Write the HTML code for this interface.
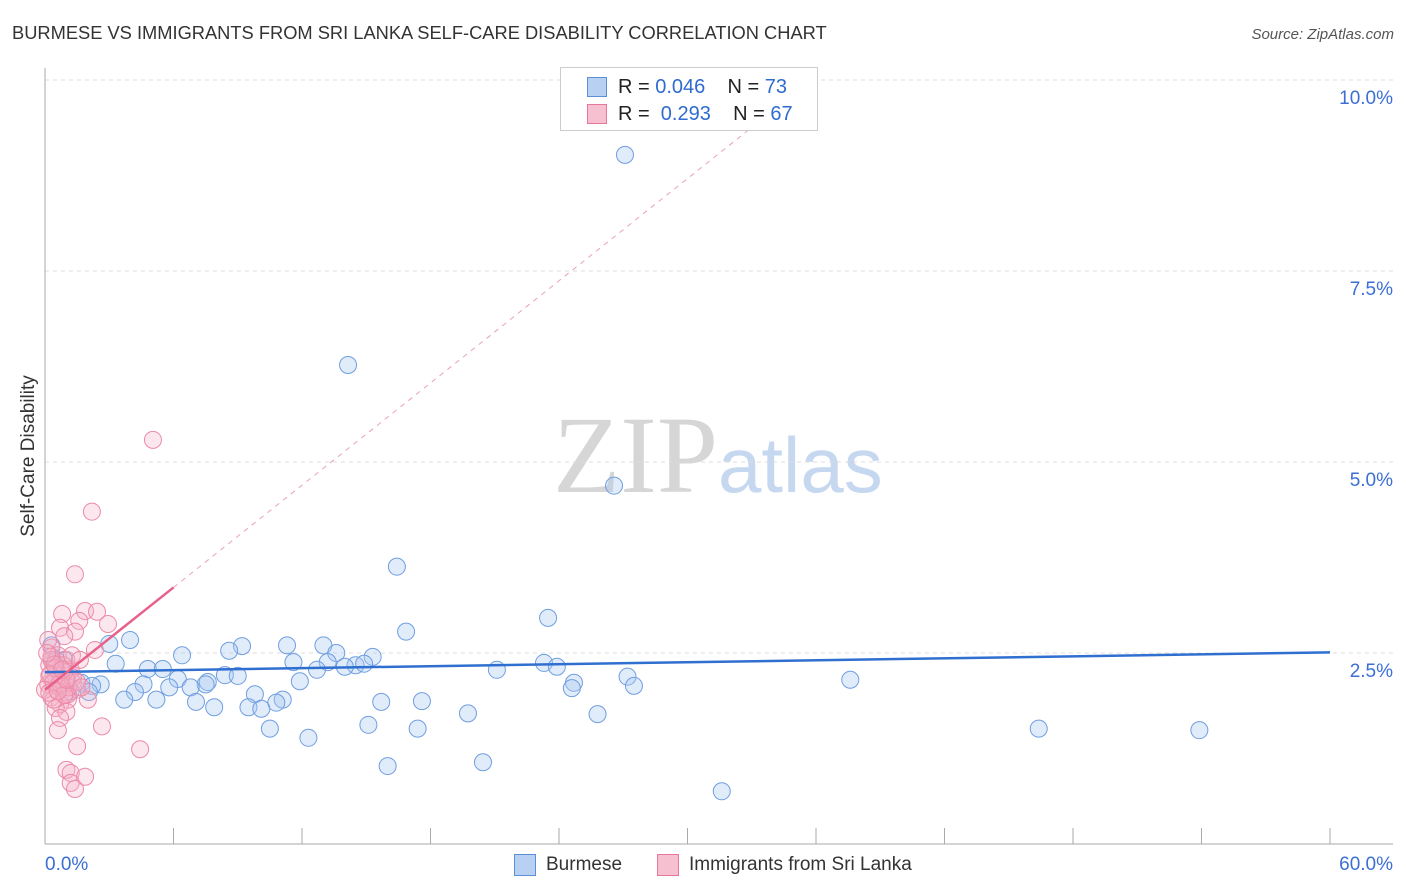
<!DOCTYPE html>
<html><head><meta charset="utf-8"><style>
body{margin:0;background:#fff;font-family:"Liberation Sans",sans-serif;}
#wrap{position:relative;width:1406px;height:892px;overflow:hidden;}
</style></head><body>
<div id="wrap">
<svg id="svg" width="1406" height="892" xmlns="http://www.w3.org/2000/svg">
<text x="12" y="39" font-size="18.3" fill="#333">BURMESE VS IMMIGRANTS FROM SRI LANKA SELF-CARE DISABILITY CORRELATION CHART</text>
<text x="1394" y="39" font-size="15" fill="#555" font-style="italic" text-anchor="end">Source: ZipAtlas.com</text>
<text x="553" y="492" font-size="110" fill="#d6d6d6" font-family="Liberation Serif,serif">ZIP</text>
<text x="718" y="492" font-size="78" fill="#c6d8f0">atlas</text>
<text transform="translate(34,456) rotate(-90)" font-size="19" fill="#333" text-anchor="middle">Self-Care Disability</text>
<g id="grid"></g><g id="marks"></g>
</svg>
<div style="position:absolute;left:560px;top:67px;width:256px;height:62px;background:#fff;border:1px solid #ccc;font-size:20px;color:#222;">
 <div style="position:absolute;left:26px;top:9px;width:18px;height:18px;background:#b8d1f3;border:1px solid #5b8fd8;"></div>
 <div style="position:absolute;left:57px;top:8px;">R = <span style="color:#2f6bd0">0.046</span>&nbsp;&nbsp;&nbsp; N = <span style="color:#2f6bd0">73</span></div>
 <div style="position:absolute;left:26px;top:36px;width:18px;height:18px;background:#f7c0d0;border:1px solid #e8789a;"></div>
 <div style="position:absolute;left:57px;top:35px;">R = &nbsp;<span style="color:#2f6bd0">0.293</span>&nbsp;&nbsp;&nbsp; N = <span style="color:#2f6bd0">67</span></div>
</div>
<div style="position:absolute;top:854px;left:514px;font-size:19px;color:#333;">
 <div style="position:absolute;left:0;top:0px;width:20px;height:20px;background:#b8d1f3;border:1px solid #5b8fd8;"></div>
 <div style="position:absolute;left:32px;top:0;white-space:nowrap;">Burmese</div>
 <div style="position:absolute;left:143px;top:0px;width:20px;height:20px;background:#f7c0d0;border:1px solid #e8789a;"></div>
 <div style="position:absolute;left:175px;top:0;white-space:nowrap;">Immigrants from Sri Lanka</div>
</div>
</div>
<script>
const xTicks=[0,10,20,30,40,50,60];
const yTicks=[2.5,5,7.5,10];
const yTickLabels=["2.5%","5.0%","7.5%","10.0%"];
const blueX=[27.08,14.15,26.57,16.43,23.49,16.86,3.97,3.0,9.2,11.3,13.0,6.4,8.6,13.6,15.3,11.6,13.2,14.5,14.9,14.0,3.3,4.8,5.5,23.3,23.9,21.1,12.7,8.4,9.0,27.2,37.6,6.2,7.6,7.5,11.9,24.7,1.7,2.6,2.2,4.6,5.8,6.8,24.6,27.5,9.8,4.2,2.05,3.7,5.2,7.05,11.1,10.8,15.7,17.6,7.9,9.5,10.1,19.75,25.8,15.1,10.5,17.4,12.3,46.4,53.9,20.45,16.0,31.6,0.5,0.7,1.2,0.9,0.3];
const blueY=[9.02,6.27,4.69,3.63,2.96,2.78,2.67,2.62,2.59,2.60,2.60,2.47,2.53,2.50,2.45,2.38,2.38,2.34,2.36,2.32,2.36,2.29,2.29,2.37,2.32,2.28,2.28,2.21,2.20,2.19,2.15,2.16,2.12,2.09,2.13,2.11,2.11,2.09,2.07,2.09,2.05,2.05,2.04,2.07,1.96,1.99,1.99,1.89,1.89,1.86,1.89,1.85,1.86,1.87,1.79,1.79,1.77,1.71,1.70,1.56,1.51,1.51,1.39,1.51,1.49,1.07,1.02,0.69,2.41,2.15,2.0,2.41,2.6];
const pinkX=[5.04,2.19,1.4,1.87,2.43,0.8,1.6,2.94,0.7,1.4,0.9,2.33,0.3,0.6,1.0,0.2,1.2,0.5,0.8,0.15,1.3,0.55,1.0,1.5,0.3,1.07,0.7,2.0,0.5,1.0,0.7,2.66,0.6,1.5,4.44,1.0,1.2,1.87,1.2,1.4,0.3,0.15,0.4,0.85,1.26,0.6,0.2,0.0,1.63,1.07,0.9,0.4,1.1,0.5,0.2,1.3,0.7,0.3,0.9,1.5,0.6,0.25,1.0,0.45,0.8,1.7,0.1];
const pinkY=[5.29,4.35,3.53,3.05,3.04,3.01,2.92,2.88,2.83,2.78,2.72,2.54,2.57,2.47,2.41,2.34,2.28,2.21,2.15,2.09,2.11,2.02,1.99,2.02,1.92,1.89,1.83,1.89,1.78,1.73,1.65,1.54,1.49,1.28,1.24,0.97,0.93,0.88,0.80,0.72,2.41,2.67,1.89,2.34,2.47,2.07,2.20,2.02,2.41,1.96,2.25,2.12,2.05,2.30,1.98,2.18,2.10,2.45,1.95,2.12,2.00,2.22,2.15,2.35,2.28,2.05,2.5];
const blueLine=[2.25,0.0043];
const pinkLine=[2.02,0.223];
const NS="http://www.w3.org/2000/svg";
const X0=45,X1=1330,Y0=844,YTOP=80;
function sx(v){return X0+(v-0)/60*(X1-X0);}
function sy(v){return Y0-v/10*(Y0-YTOP);}
function mk(tag,attrs,parent){const e=document.createElementNS(NS,tag);for(const k in attrs)e.setAttribute(k,attrs[k]);parent.appendChild(e);return e;}
const grid=document.getElementById('grid'),marks=document.getElementById('marks');
yTicks.forEach((t,i)=>{
 const l=mk('line',{x1:X0,x2:1393,y1:sy(t),y2:sy(t),stroke:'#dcdcdc','stroke-dasharray':'4,4'},grid);
 
 
 const tx=mk('text',{x:1393,y:sy(t)+24,'font-size':19,fill:'#3b6fd4','text-anchor':'end'},grid);
 tx.textContent=yTickLabels[i];
 
 
});
const ya=mk('line',{x1:X0,x2:X0,y1:68,y2:Y0,stroke:'#aaa'},grid);


const xa=mk('line',{x1:X0,x2:1393,y1:Y0,y2:Y0,stroke:'#aaa'},grid);


for(let v=0;v<=60;v+=6){
 const t=mk('line',{x1:sx(v),x2:sx(v),y1:828,y2:Y0,stroke:'#aaa'},grid);
 
 
}
[[xTicks[0],'0.0%',45,'start'],[xTicks[6],'60.0%',1393,'end']].forEach(a=>{
 const tx=mk('text',{x:a[2],y:870,'font-size':19,fill:'#3b6fd4','text-anchor':a[3]},grid);
 tx.textContent=a[1];
 
 
});
blueX.forEach((x,i)=>{
 const c=mk('circle',{cx:sx(x),cy:sy(blueY[i]),r:8.5,fill:'rgba(170,200,240,0.35)',stroke:'#6f9ee0','stroke-width':1},marks);
 
 
});
pinkX.forEach((x,i)=>{
 const c=mk('circle',{cx:sx(x),cy:sy(pinkY[i]),r:8.5,fill:'rgba(245,175,200,0.3)',stroke:'#ec8aa8','stroke-width':1},marks);
 
 
});
const bl=mk('line',{x1:sx(0),y1:sy(blueLine[0]),x2:sx(60),y2:sy(blueLine[0]+blueLine[1]*60),stroke:'#2f6fd0','stroke-width':2.5},marks);


const xEnd=(10-pinkLine[0])/pinkLine[1];
const pd=mk('line',{x1:sx(6),y1:sy(pinkLine[0]+pinkLine[1]*6),x2:sx(xEnd),y2:sy(10),stroke:'#eaa0b8','stroke-width':1,'stroke-dasharray':'5,5'},marks);


const pl=mk('line',{x1:sx(0),y1:sy(pinkLine[0]),x2:sx(6),y2:sy(pinkLine[0]+pinkLine[1]*6),stroke:'#e8608a','stroke-width':2.5},marks);


</script>
</body></html>
